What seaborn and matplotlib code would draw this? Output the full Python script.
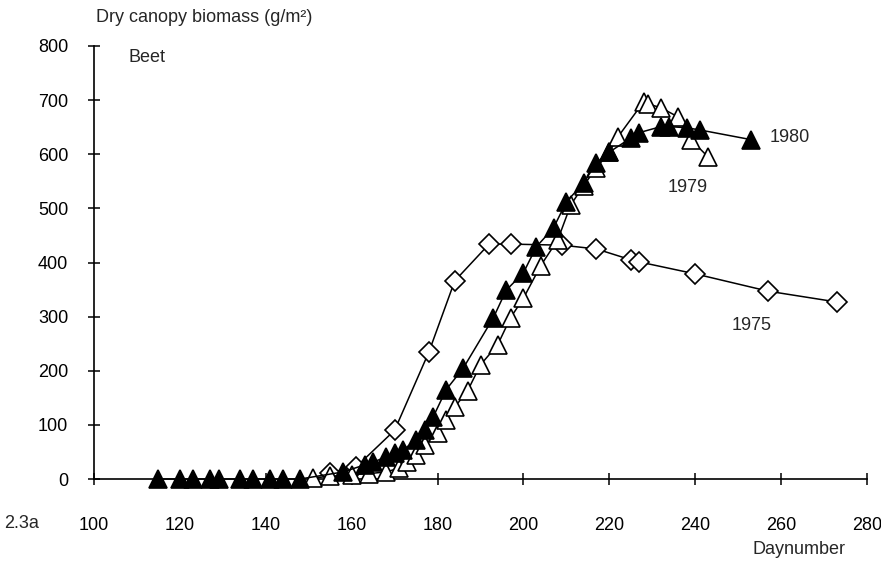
import matplotlib
matplotlib.use("Agg")
import matplotlib.pyplot as plt
import seaborn as sns
import pandas as pd

# ---- data ----
days_1975 = [155, 161, 170, 178, 184, 192, 197, 209, 217, 225, 227, 240, 257, 273]
vals_1975 = [12, 22, 90, 235, 366, 434, 434, 432, 425, 405, 401, 379, 347, 327]

days_1979 = [151, 155, 160, 164, 168, 171, 173, 175, 177, 180, 182, 184, 187, 190,
             194, 197, 200, 204, 208, 211, 214, 217, 220, 222, 228, 229, 232, 236, 239, 243]
vals_1979 = [2, 5, 8, 10, 13, 20, 31, 44, 63, 85, 109, 133, 163, 211,
             248, 298, 334, 394, 442, 506, 542, 575, 604, 632, 697, 693, 686, 669, 627, 595]

days_1980 = [115, 120, 123, 127, 129, 134, 137, 141, 144, 148,
             158, 163, 165, 168, 170, 172, 175, 177, 179, 182, 186, 193, 196, 200,
             203, 207, 210, 214, 217, 220, 225, 227, 232, 234, 238, 241, 253]
vals_1980 = [0, 0, 0, 0, 0, 0, 0, 0, 0, 0,
             13, 26, 31, 41, 48, 54, 72, 90, 115, 165, 205, 298, 349, 381,
             429, 464, 512, 547, 584, 604, 630, 640, 651, 651, 649, 645, 627]

x_ticks = [100, 120, 140, 160, 180, 200, 220, 240, 260, 280]
y_ticks = [0, 100, 200, 300, 400, 500, 600, 700, 800]

sns.set_style("white")
plt.rcParams['font.family'] = ['Liberation Sans Narrow', 'Liberation Sans', 'DejaVu Sans']

fig = plt.figure(figsize=(8.81, 5.63), dpi=100)
ax = fig.add_axes([94 / 881, 1 - 479 / 563, (867 - 94) / 881, (479 - 46) / 563])

df75 = pd.DataFrame({"day": days_1975, "biomass": vals_1975})
df79 = pd.DataFrame({"day": days_1979, "biomass": vals_1979})
df80 = pd.DataFrame({"day": days_1980, "biomass": vals_1980})

common = dict(estimator=None, sort=False, color="black", linewidth=1.1,
              markeredgecolor="black", markeredgewidth=1.2, ax=ax, legend=False,
              clip_on=False)
sns.lineplot(data=df75, x="day", y="biomass", marker="D", markersize=10,
             markerfacecolor="white", zorder=3, **common)
sns.lineplot(data=df79, x="day", y="biomass", marker="^", markersize=13,
             markerfacecolor="white", zorder=4, **common)
sns.lineplot(data=df80, x="day", y="biomass", marker="^", markersize=13,
             markerfacecolor="black", zorder=5, **common)

ax.set_xlim(100, 280)
ax.set_ylim(0, 800)
ax.set_xticks(x_ticks)
ax.set_yticks(y_ticks)
ax.set_xlabel("")
ax.set_ylabel("")
for s in ["top", "right"]:
    ax.spines[s].set_visible(False)
for s in ["left", "bottom"]:
    ax.spines[s].set_color("black")
    ax.spines[s].set_linewidth(1.2)
    ax.spines[s].set_zorder(2)
ax.tick_params(axis="both", direction="inout", length=9, width=1.1, colors="black",
               labelsize=13)
ax.tick_params(axis="x", pad=23, bottom=True)
ax.tick_params(axis="y", pad=14, left=True)
for lab in ax.get_xticklabels() + ax.get_yticklabels():
    lab.set_color("black")

fig.text(96 / 881, 1 - 17 / 563, "Dry canopy biomass (g/m²)", fontsize=13,
         ha="left", va="center")
fig.text(128 / 881, 1 - 58 / 563, "Beet", fontsize=13, ha="left", va="center")
fig.text(4 / 881, 1 - 523 / 563, "2.3a", fontsize=13, ha="left", va="center")
fig.text(846 / 881, 1 - 549 / 563, "Daynumber", fontsize=13, ha="right", va="center")
fig.text(770 / 881, 1 - 137 / 563, "1980", fontsize=13, ha="left", va="center")
fig.text(668 / 881, 1 - 188 / 563, "1979", fontsize=13, ha="left", va="center")
fig.text(732 / 881, 1 - 326 / 563, "1975", fontsize=13, ha="left", va="center")

fig.savefig("out.png", dpi=100, facecolor="white")
